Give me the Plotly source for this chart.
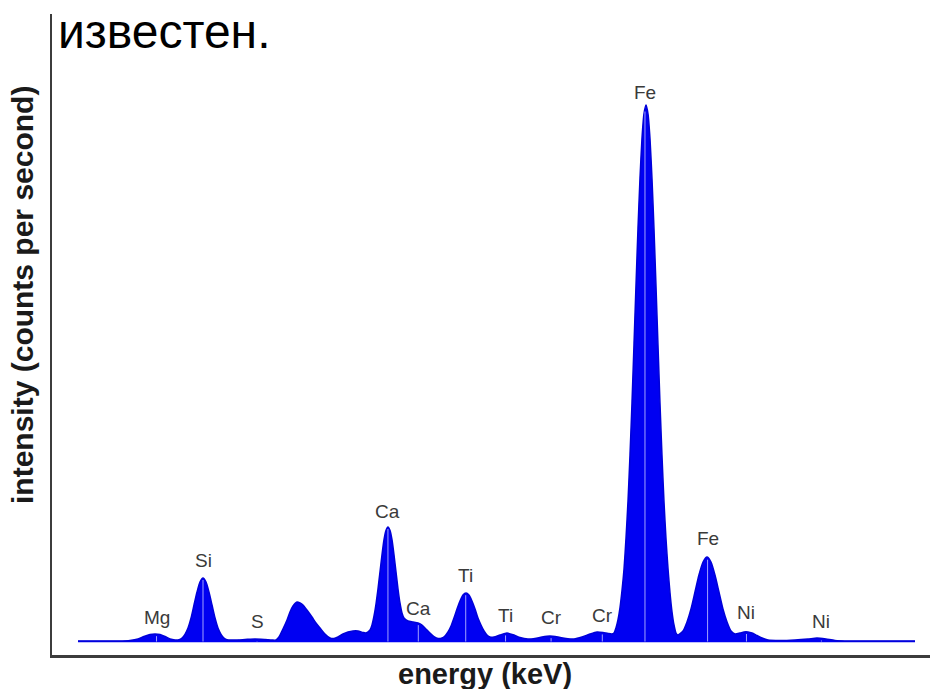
import numpy as np
import plotly.graph_objects as go

# ---- data ----
energy_kev = [
    0.422, 0.654, 0.865, 0.970, 1.055, 1.118, 1.181, 1.234, 1.287, 1.339, 1.392, 1.445, 1.487,
    1.519, 1.550, 1.582, 1.614, 1.645, 1.677, 1.708, 1.740, 1.772, 1.803, 1.835, 1.867, 1.898,
    1.930, 1.961, 1.993, 2.077, 2.183, 2.288, 2.394, 2.467, 2.510, 2.541, 2.583, 2.626, 2.657,
    2.689, 2.731, 2.763, 2.794, 2.836, 2.889, 2.931, 2.974, 3.026, 3.079, 3.121, 3.163, 3.216,
    3.269, 3.321, 3.374, 3.427, 3.459, 3.501, 3.522, 3.543, 3.564, 3.585, 3.606, 3.627, 3.648,
    3.669, 3.690, 3.712, 3.733, 3.754, 3.775, 3.796, 3.817, 3.838, 3.859, 3.901, 3.954, 4.007,
    4.049, 4.091, 4.133, 4.175, 4.218, 4.260, 4.291, 4.323, 4.355, 4.386, 4.418, 4.450, 4.481,
    4.513, 4.544, 4.576, 4.608, 4.639, 4.671, 4.703, 4.734, 4.766, 4.808, 4.871, 4.945, 5.019,
    5.082, 5.166, 5.240, 5.314, 5.398, 5.483, 5.567, 5.651, 5.736, 5.820, 5.894, 5.957, 6.010,
    6.052, 6.073, 6.094, 6.115, 6.136, 6.157, 6.179, 6.200, 6.221, 6.242, 6.263, 6.284, 6.305,
    6.326, 6.347, 6.368, 6.389, 6.411, 6.432, 6.453, 6.474, 6.495, 6.516, 6.537, 6.558, 6.579,
    6.600, 6.621, 6.643, 6.664, 6.685, 6.706, 6.727, 6.748, 6.801, 6.843, 6.885, 6.927, 6.969,
    7.012, 7.054, 7.096, 7.138, 7.180, 7.222, 7.265, 7.307, 7.349, 7.402, 7.444, 7.486, 7.528,
    7.581, 7.634, 7.697, 7.823, 7.981, 8.119, 8.213, 8.308, 8.403, 8.561, 8.772, 8.983, 9.247,
]
intensity_cps = [
    14, 14, 14, 14.5, 16, 18.5, 20.5, 21, 20.5, 18.5, 16, 15, 15.2,
    17, 20.7, 27, 37, 50, 63, 73, 77, 73, 63, 50, 37, 27,
    20.7, 17, 15.2, 15, 15.5, 16, 15.5, 15, 15, 18, 26, 35, 43,
    49, 53, 52, 50, 45, 38, 32, 27, 21, 17, 16.5, 18, 21,
    23, 24, 24, 22.5, 22, 25, 30, 39, 51, 66, 83, 100, 115,
    124.5, 128, 124.5, 115, 100, 83, 66, 52, 42, 37, 34, 33, 32,
    30, 26, 22, 18.5, 16.5, 17, 19, 23, 29, 37, 46, 54, 60,
    62, 60, 54, 46, 37, 30, 24, 20, 18, 18, 20, 22, 20,
    17.5, 16, 16.5, 18, 19, 18, 16.5, 16, 18, 21, 23, 22.5, 21.5,
    21, 22, 27, 35, 47, 64, 86, 117, 154, 200, 252, 310, 369,
    426, 476, 516, 541, 550, 541, 516, 476, 426, 369, 310, 252, 200,
    154, 117, 86, 62, 43, 30, 22, 20, 24, 33, 46, 63, 80,
    93, 98, 93, 80, 63, 46, 33, 24, 21, 22, 23, 23, 22,
    19.5, 17, 15, 14.5, 15, 16, 17, 16, 14.5, 14, 14, 14, 14,
]
baseline_cps = 13.5

line_labels = ["Mg", "Si", "S", "Ca", "Ca", "Ti", "Ti", "Cr", "Cr", "Fe", "Fe", "Ni", "Ni"]
line_energy_kev = [1.25, 1.74, 2.31, 3.69, 4.01, 4.51, 4.93, 5.41, 5.95, 6.40, 7.06, 7.47, 8.26]
label_height_cps = [38, 95, 34, 144, 47, 80, 40, 38, 40, 563, 117, 43, 34]

x_title = "energy (keV)"
y_title = "intensity (counts per second)"
caption = "известен."

# ---- figure ----
BLUE = "#0000f2"
fig = go.Figure()

fig.add_trace(go.Scatter(
    x=[energy_kev[0], energy_kev[-1]], y=[baseline_cps, baseline_cps],
    mode="lines", line=dict(color=BLUE, width=1.5), hoverinfo="skip", showlegend=False))
fig.add_trace(go.Scatter(
    x=energy_kev, y=intensity_cps, mode="lines", fill="tonexty", fillcolor=BLUE,
    line=dict(color="#0000d8", width=1.5, shape="spline", smoothing=0.6),
    hoverinfo="skip", showlegend=False))

# thin light marker lines at the emission-line energies
tops = np.interp(line_energy_kev, energy_kev, intensity_cps)
vx, vy = [], []
for e, t in zip(line_energy_kev, tops):
    vx += [e, e, None]
    vy += [baseline_cps, t - 2, None]
fig.add_trace(go.Scatter(x=vx, y=vy, mode="lines",
                         line=dict(color="rgba(190,190,255,0.85)", width=1),
                         hoverinfo="skip", showlegend=False))

annotations = []
for lab, e, h in zip(line_labels, line_energy_kev, label_height_cps):
    annotations.append(dict(x=e, y=h, xref="x", yref="y", text=lab, showarrow=False,
                            xanchor="center", yanchor="middle",
                            font=dict(family="Liberation Sans, Arial", size=19, color="#3a3a3a")))

annotations.append(dict(x=0.4936, y=-0.0296, xref="paper", yref="paper", text=x_title,
                        showarrow=False, xanchor="center", yanchor="middle",
                        font=dict(family="Liberation Sans, Arial", size=29, color="#1a1a1a",
                                  weight="bold")))
annotations.append(dict(x=-0.0342, y=0.5616, xref="paper", yref="paper", text=y_title,
                        showarrow=False, xanchor="center", yanchor="middle", textangle=-90,
                        font=dict(family="Liberation Sans, Arial", size=30, color="#1a1a1a",
                                  weight="bold")))
annotations.append(dict(x=0.004, y=0.972, xref="paper", yref="paper", text=caption,
                        showarrow=False, xanchor="left", yanchor="middle",
                        font=dict(family="Liberation Sans, Arial", size=48, color="#000000")))

fig.update_layout(
    width=930, height=689,
    margin=dict(l=52, r=0, t=14, b=34),
    paper_bgcolor="white", plot_bgcolor="white",
    showlegend=False, hovermode=False,
    annotations=annotations,
    xaxis=dict(range=[0.148, 9.405], showgrid=False, zeroline=False, showticklabels=False,
               ticks="", showline=True, linecolor="#3c3c3c", linewidth=3),
    yaxis=dict(range=[0, 641], showgrid=False, zeroline=False, showticklabels=False,
               ticks="", showline=True, linecolor="#3c3c3c", linewidth=2),
)

fig.write_html(
    "out.html",
    config={"displayModeBar": False},
    post_script="document.body.style.margin='0';document.documentElement.style.overflow='hidden';",
)
